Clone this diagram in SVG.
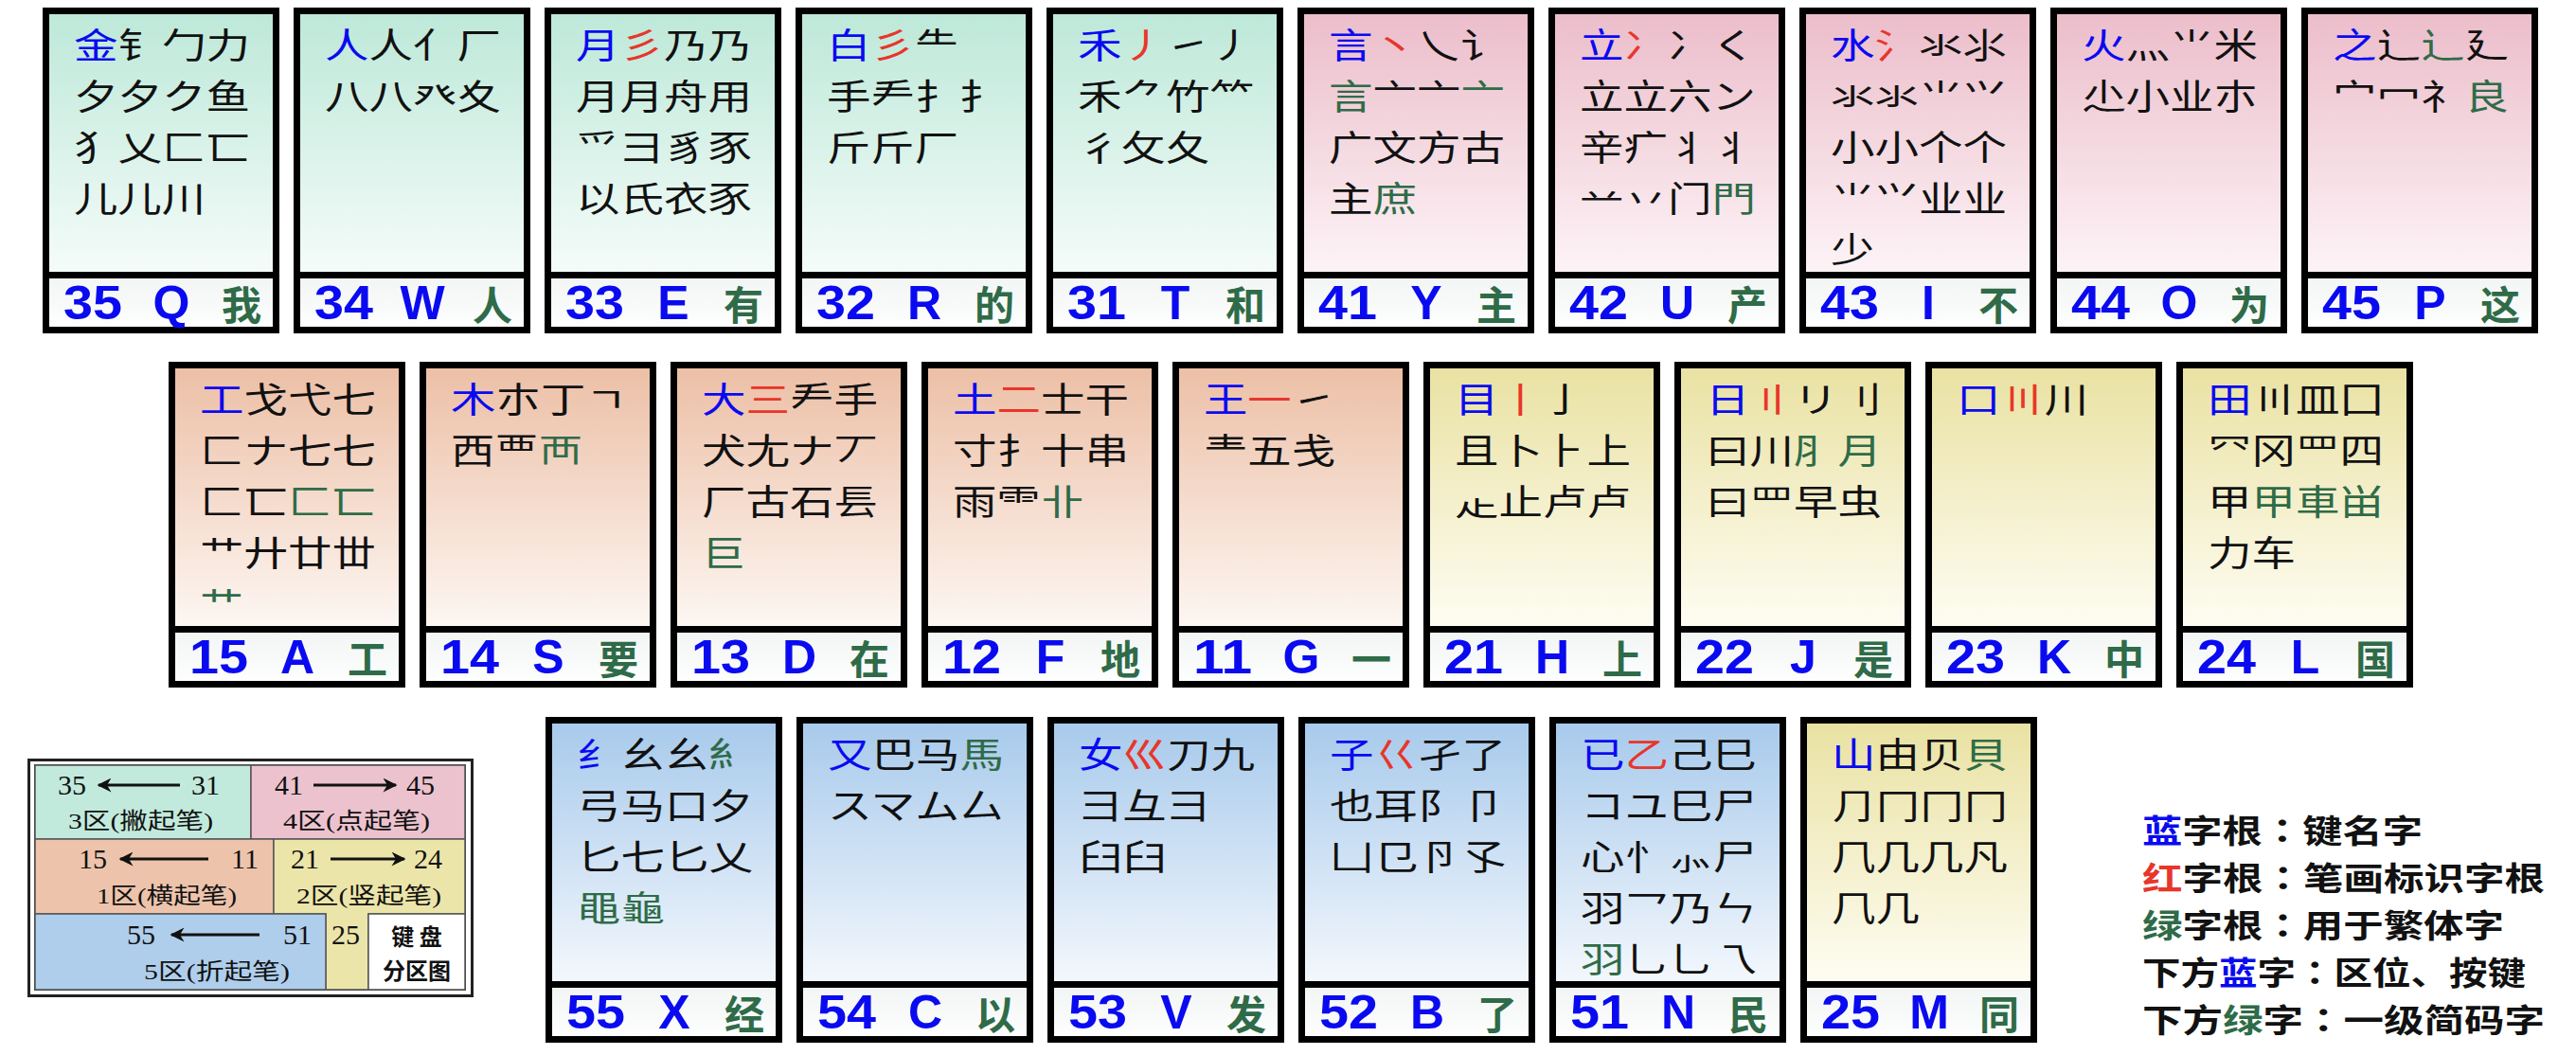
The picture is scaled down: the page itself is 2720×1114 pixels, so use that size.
<svg xmlns="http://www.w3.org/2000/svg" width="2720" height="1114" viewBox="0 0 2720 1114">
<defs>
<linearGradient id="gG" x1="0" y1="0" x2="0" y2="1"><stop offset="0" stop-color="#BCE8D8"/><stop offset="1" stop-color="#F5FCF9"/></linearGradient>
<linearGradient id="gP" x1="0" y1="0" x2="0" y2="1"><stop offset="0" stop-color="#EBBCC9"/><stop offset="1" stop-color="#FDF4F7"/></linearGradient>
<linearGradient id="gS" x1="0" y1="0" x2="0" y2="1"><stop offset="0" stop-color="#ECBEA4"/><stop offset="1" stop-color="#FDF7F3"/></linearGradient>
<linearGradient id="gY" x1="0" y1="0" x2="0" y2="1"><stop offset="0" stop-color="#E9E1A1"/><stop offset="1" stop-color="#FEFDF3"/></linearGradient>
<linearGradient id="gB" x1="0" y1="0" x2="0" y2="1"><stop offset="0" stop-color="#A6C9EB"/><stop offset="1" stop-color="#F4F8FD"/></linearGradient>
<linearGradient id="gL" x1="0" y1="0" x2="0" y2="1"><stop offset="0" stop-color="#F1F5F4"/><stop offset="1" stop-color="#FFFFFF"/></linearGradient>
<marker id="ah" viewBox="0 0 10 10" refX="9" refY="5" markerWidth="6" markerHeight="5" orient="auto-start-reverse"><path d="M0,0 L10,5 L0,10 L3,5 z" fill="#111"/></marker>
</defs>
<style>
.bG{fill:url(#gG)} .bP{fill:url(#gP)} .bS{fill:url(#gS)} .bY{fill:url(#gY)} .bB{fill:url(#gB)}
.lb{fill:url(#gL)}
.fr{fill:none;stroke:#000;stroke-width:7}
.dv{stroke:#000;stroke-width:7}
.t{font-family:"Noto Sans CJK SC","Noto Sans CJK JP",sans-serif;font-size:37px;fill:#111}
.b{fill:#0A0AF0} .r{fill:#E8362A} .g{fill:#2F6B48}
.n{font-family:"Liberation Sans",Arial,sans-serif;font-weight:bold;font-size:50px;fill:#0A0AF0}
.k{font-family:"Liberation Sans",Arial,sans-serif;font-weight:bold;font-size:50px;fill:#0A0AF0;text-anchor:middle}
.z{font-family:"Noto Sans CJK SC",sans-serif;font-weight:bold;font-size:42px;fill:#2F6B48;text-anchor:end}
.cell{stroke:#555;stroke-width:1.5}
.ln{font-family:"Liberation Serif","Noto Sans CJK SC",serif;font-size:30px;fill:#111}
.lz{font-family:"Liberation Serif","Noto Sans CJK SC",serif;font-size:24px;fill:#111}
.lk{font-family:"Noto Sans CJK SC",sans-serif;font-weight:bold;font-size:24px;fill:#111;text-anchor:middle}
.arr{stroke:#111;stroke-width:3;fill:none}
.lg{font-family:"Noto Sans CJK SC",sans-serif;font-weight:bold;font-size:34px;fill:#111}
.cj{font-family:"Noto Sans CJK TC","Noto Sans CJK JP",sans-serif}
</style>

<!-- Row 1 -->
<g id="key-Q" transform="translate(45,8)">
<rect class="bG" width="250" height="283"/><rect class="lb" y="283" width="250" height="61"/>
<rect class="fr" x="3.5" y="3.5" width="243" height="337"/><line class="dv" x1="0" y1="282.5" x2="250" y2="282.5"/>
<text class="t" x="33" y="54" textLength="186" lengthAdjust="spacingAndGlyphs"><tspan class="b">金</tspan>钅勹力</text>
<text class="t" x="33" y="108" textLength="186" lengthAdjust="spacingAndGlyphs">夕夕ク鱼</text>
<text class="t" x="33" y="162" textLength="186" lengthAdjust="spacingAndGlyphs">犭乂匚匸</text>
<text class="t" x="33" y="216" textLength="139" lengthAdjust="spacingAndGlyphs">儿儿川</text>
<text class="n" x="22" y="329" textLength="62" lengthAdjust="spacingAndGlyphs">35</text><text class="k" x="136" y="329">Q</text><text class="z" x="231" y="330">我</text>
</g>
<g id="key-W" transform="translate(310,8)">
<rect class="bG" width="250" height="283"/><rect class="lb" y="283" width="250" height="61"/>
<rect class="fr" x="3.5" y="3.5" width="243" height="337"/><line class="dv" x1="0" y1="282.5" x2="250" y2="282.5"/>
<text class="t" x="33" y="54" textLength="186" lengthAdjust="spacingAndGlyphs"><tspan class="b">人</tspan>人亻厂</text>
<text class="t" x="33" y="108" textLength="186" lengthAdjust="spacingAndGlyphs">八八癶夊</text>
<text class="n" x="22" y="329" textLength="62" lengthAdjust="spacingAndGlyphs">34</text><text class="k" x="136" y="329">W</text><text class="z" x="231" y="330">人</text>
</g>
<g id="key-E" transform="translate(575,8)">
<rect class="bG" width="250" height="283"/><rect class="lb" y="283" width="250" height="61"/>
<rect class="fr" x="3.5" y="3.5" width="243" height="337"/><line class="dv" x1="0" y1="282.5" x2="250" y2="282.5"/>
<text class="t" x="33" y="54" textLength="186" lengthAdjust="spacingAndGlyphs"><tspan class="b">月</tspan><tspan class="r">彡</tspan>乃乃</text>
<text class="t" x="33" y="108" textLength="186" lengthAdjust="spacingAndGlyphs">月月舟用</text>
<text class="t" x="33" y="162" textLength="186" lengthAdjust="spacingAndGlyphs">爫⺕豸豕</text>
<text class="t" x="33" y="216" textLength="186" lengthAdjust="spacingAndGlyphs">以氏衣豕</text>
<text class="n" x="22" y="329" textLength="62" lengthAdjust="spacingAndGlyphs">33</text><text class="k" x="136" y="329">E</text><text class="z" x="231" y="330">有</text>
</g>
<g id="key-R" transform="translate(840,8)">
<rect class="bG" width="250" height="283"/><rect class="lb" y="283" width="250" height="61"/>
<rect class="fr" x="3.5" y="3.5" width="243" height="337"/><line class="dv" x1="0" y1="282.5" x2="250" y2="282.5"/>
<text class="t" x="33" y="54" textLength="139" lengthAdjust="spacingAndGlyphs"><tspan class="b">白</tspan><tspan class="r">彡</tspan>⺧</text>
<text class="t" x="33" y="108" textLength="186" lengthAdjust="spacingAndGlyphs">手龵扌扌</text>
<text class="t" x="33" y="162" textLength="139" lengthAdjust="spacingAndGlyphs">斤斤厂</text>
<text class="n" x="22" y="329" textLength="62" lengthAdjust="spacingAndGlyphs">32</text><text class="k" x="136" y="329">R</text><text class="z" x="231" y="330">的</text>
</g>
<g id="key-T" transform="translate(1105,8)">
<rect class="bG" width="250" height="283"/><rect class="lb" y="283" width="250" height="61"/>
<rect class="fr" x="3.5" y="3.5" width="243" height="337"/><line class="dv" x1="0" y1="282.5" x2="250" y2="282.5"/>
<text class="t" x="33" y="54" textLength="186" lengthAdjust="spacingAndGlyphs"><tspan class="b">禾</tspan><tspan class="r">丿</tspan>㇀丿</text>
<text class="t" x="33" y="108" textLength="186" lengthAdjust="spacingAndGlyphs">禾⺈竹⺮</text>
<text class="t" x="33" y="162" textLength="139" lengthAdjust="spacingAndGlyphs">彳攵夂</text>
<text class="n" x="22" y="329" textLength="62" lengthAdjust="spacingAndGlyphs">31</text><text class="k" x="136" y="329">T</text><text class="z" x="231" y="330">和</text>
</g>
<g id="key-Y" transform="translate(1370,8)">
<rect class="bP" width="250" height="283"/><rect class="lb" y="283" width="250" height="61"/>
<rect class="fr" x="3.5" y="3.5" width="243" height="337"/><line class="dv" x1="0" y1="282.5" x2="250" y2="282.5"/>
<text class="t" x="33" y="54" textLength="186" lengthAdjust="spacingAndGlyphs"><tspan class="b">言</tspan><tspan class="r">丶</tspan>乀讠</text>
<text class="t" x="33" y="108" textLength="186" lengthAdjust="spacingAndGlyphs"><tspan class="g">言</tspan>亠亠<tspan class="g">亠</tspan></text>
<text class="t" x="33" y="162" textLength="186" lengthAdjust="spacingAndGlyphs">广文方古</text>
<text class="t" x="33" y="216" textLength="93" lengthAdjust="spacingAndGlyphs">主<tspan class="g">庶</tspan></text>
<text class="n" x="22" y="329" textLength="62" lengthAdjust="spacingAndGlyphs">41</text><text class="k" x="136" y="329">Y</text><text class="z" x="231" y="330">主</text>
</g>
<g id="key-U" transform="translate(1635,8)">
<rect class="bP" width="250" height="283"/><rect class="lb" y="283" width="250" height="61"/>
<rect class="fr" x="3.5" y="3.5" width="243" height="337"/><line class="dv" x1="0" y1="282.5" x2="250" y2="282.5"/>
<text class="t" x="33" y="54" textLength="186" lengthAdjust="spacingAndGlyphs"><tspan class="b">立</tspan><tspan class="r">冫</tspan>冫く</text>
<text class="t" x="33" y="108" textLength="186" lengthAdjust="spacingAndGlyphs">立立六ン</text>
<text class="t" x="33" y="162" textLength="186" lengthAdjust="spacingAndGlyphs">辛疒丬⺦</text>
<text class="t" x="33" y="216" textLength="186" lengthAdjust="spacingAndGlyphs">䒑丷门<tspan class="g">門</tspan></text>
<text class="n" x="22" y="329" textLength="62" lengthAdjust="spacingAndGlyphs">42</text><text class="k" x="136" y="329">U</text><text class="z" x="231" y="330">产</text>
</g>
<g id="key-I" transform="translate(1900,8)">
<rect class="bP" width="250" height="283"/><rect class="lb" y="283" width="250" height="61"/>
<rect class="fr" x="3.5" y="3.5" width="243" height="337"/><line class="dv" x1="0" y1="282.5" x2="250" y2="282.5"/>
<text class="t" x="33" y="54" textLength="186" lengthAdjust="spacingAndGlyphs"><tspan class="b">水</tspan><tspan class="r">氵</tspan>氺⺢</text>
<text class="t" x="33" y="108" textLength="186" lengthAdjust="spacingAndGlyphs">氺氺⺌⺍</text>
<text class="t" x="33" y="162" textLength="186" lengthAdjust="spacingAndGlyphs">小小个个</text>
<text class="t" x="33" y="216" textLength="186" lengthAdjust="spacingAndGlyphs">⺌⺍业业</text>
<text class="t" x="33" y="270" textLength="46" lengthAdjust="spacingAndGlyphs">少</text>
<text class="n" x="22" y="329" textLength="62" lengthAdjust="spacingAndGlyphs">43</text><text class="k" x="136" y="329">I</text><text class="z" x="231" y="330">不</text>
</g>
<g id="key-O" transform="translate(2165,8)">
<rect class="bP" width="250" height="283"/><rect class="lb" y="283" width="250" height="61"/>
<rect class="fr" x="3.5" y="3.5" width="243" height="337"/><line class="dv" x1="0" y1="282.5" x2="250" y2="282.5"/>
<text class="t" x="33" y="54" textLength="186" lengthAdjust="spacingAndGlyphs"><tspan class="b">火</tspan>灬⺌米</text>
<text class="t" x="33" y="108" textLength="186" lengthAdjust="spacingAndGlyphs">尐小业朩</text>
<text class="n" x="22" y="329" textLength="62" lengthAdjust="spacingAndGlyphs">44</text><text class="k" x="136" y="329">O</text><text class="z" x="231" y="330">为</text>
</g>
<g id="key-P" transform="translate(2430,8)">
<rect class="bP" width="250" height="283"/><rect class="lb" y="283" width="250" height="61"/>
<rect class="fr" x="3.5" y="3.5" width="243" height="337"/><line class="dv" x1="0" y1="282.5" x2="250" y2="282.5"/>
<text class="t" x="33" y="54" textLength="186" lengthAdjust="spacingAndGlyphs"><tspan class="b">之</tspan>辶<tspan class="g">辶</tspan>廴</text>
<text class="t" x="33" y="108" textLength="186" lengthAdjust="spacingAndGlyphs">宀冖礻<tspan class="g">良</tspan></text>
<text class="n" x="22" y="329" textLength="62" lengthAdjust="spacingAndGlyphs">45</text><text class="k" x="136" y="329">P</text><text class="z" x="231" y="330">这</text>
</g>

<!-- Row 2 -->
<g id="key-A" transform="translate(178,382)">
<rect class="bS" width="250" height="283"/><rect class="lb" y="283" width="250" height="61"/>
<rect class="fr" x="3.5" y="3.5" width="243" height="337"/><line class="dv" x1="0" y1="282.5" x2="250" y2="282.5"/>
<text class="t" x="33" y="54" textLength="186" lengthAdjust="spacingAndGlyphs"><tspan class="b">工</tspan>戈弋七</text>
<text class="t" x="33" y="108" textLength="186" lengthAdjust="spacingAndGlyphs">匚ナ七七</text>
<text class="t" x="33" y="162" textLength="186" lengthAdjust="spacingAndGlyphs">匚匸<tspan class="g">匚匸</tspan></text>
<text class="t" x="33" y="216" textLength="186" lengthAdjust="spacingAndGlyphs">艹廾廿丗</text>
<text class="t g" x="33" y="270" textLength="46" lengthAdjust="spacingAndGlyphs">艹</text>
<text class="n" x="22" y="329" textLength="62" lengthAdjust="spacingAndGlyphs">15</text><text class="k" x="136" y="329">A</text><text class="z" x="231" y="330">工</text>
</g>
<g id="key-S" transform="translate(443,382)">
<rect class="bS" width="250" height="283"/><rect class="lb" y="283" width="250" height="61"/>
<rect class="fr" x="3.5" y="3.5" width="243" height="337"/><line class="dv" x1="0" y1="282.5" x2="250" y2="282.5"/>
<text class="t" x="33" y="54" textLength="186" lengthAdjust="spacingAndGlyphs"><tspan class="b">木</tspan>朩丁ㄱ</text>
<text class="t" x="33" y="108" textLength="139" lengthAdjust="spacingAndGlyphs">西覀<tspan class="g">襾</tspan></text>
<text class="n" x="22" y="329" textLength="62" lengthAdjust="spacingAndGlyphs">14</text><text class="k" x="136" y="329">S</text><text class="z" x="231" y="330">要</text>
</g>
<g id="key-D" transform="translate(708,382)">
<rect class="bS" width="250" height="283"/><rect class="lb" y="283" width="250" height="61"/>
<rect class="fr" x="3.5" y="3.5" width="243" height="337"/><line class="dv" x1="0" y1="282.5" x2="250" y2="282.5"/>
<text class="t" x="33" y="54" textLength="186" lengthAdjust="spacingAndGlyphs"><tspan class="b">大</tspan><tspan class="r">三</tspan>龵手</text>
<text class="t" x="33" y="108" textLength="186" lengthAdjust="spacingAndGlyphs">犬尢ナ丆</text>
<text class="t" x="33" y="162" textLength="186" lengthAdjust="spacingAndGlyphs">厂古石镸</text>
<text class="t g" x="33" y="216" textLength="46" lengthAdjust="spacingAndGlyphs">巨</text>
<text class="n" x="22" y="329" textLength="62" lengthAdjust="spacingAndGlyphs">13</text><text class="k" x="136" y="329">D</text><text class="z" x="231" y="330">在</text>
</g>
<g id="key-F" transform="translate(973,382)">
<rect class="bS" width="250" height="283"/><rect class="lb" y="283" width="250" height="61"/>
<rect class="fr" x="3.5" y="3.5" width="243" height="337"/><line class="dv" x1="0" y1="282.5" x2="250" y2="282.5"/>
<text class="t" x="33" y="54" textLength="186" lengthAdjust="spacingAndGlyphs"><tspan class="b">土</tspan><tspan class="r">二</tspan>士干</text>
<text class="t" x="33" y="108" textLength="186" lengthAdjust="spacingAndGlyphs">寸扌十串</text>
<text class="t" x="33" y="162" textLength="139" lengthAdjust="spacingAndGlyphs">雨⻗<tspan class="g">卝</tspan></text>
<text class="n" x="22" y="329" textLength="62" lengthAdjust="spacingAndGlyphs">12</text><text class="k" x="136" y="329">F</text><text class="z" x="231" y="330">地</text>
</g>
<g id="key-G" transform="translate(1238,382)">
<rect class="bS" width="250" height="283"/><rect class="lb" y="283" width="250" height="61"/>
<rect class="fr" x="3.5" y="3.5" width="243" height="337"/><line class="dv" x1="0" y1="282.5" x2="250" y2="282.5"/>
<text class="t" x="33" y="54" textLength="139" lengthAdjust="spacingAndGlyphs"><tspan class="b">王</tspan><tspan class="r">一</tspan>㇀</text>
<text class="t" x="33" y="108" textLength="139" lengthAdjust="spacingAndGlyphs">龶五戋</text>
<text class="n" x="22" y="329" textLength="62" lengthAdjust="spacingAndGlyphs">11</text><text class="k" x="136" y="329">G</text><text class="z" x="231" y="330">一</text>
</g>
<g id="key-H" transform="translate(1503,382)">
<rect class="bY" width="250" height="283"/><rect class="lb" y="283" width="250" height="61"/>
<rect class="fr" x="3.5" y="3.5" width="243" height="337"/><line class="dv" x1="0" y1="282.5" x2="250" y2="282.5"/>
<text class="t" x="33" y="54" textLength="139" lengthAdjust="spacingAndGlyphs"><tspan class="b">目</tspan><tspan class="r">丨</tspan>亅</text>
<text class="t" x="33" y="108" textLength="186" lengthAdjust="spacingAndGlyphs">且卜⺊上</text>
<text class="t" x="33" y="162" textLength="186" lengthAdjust="spacingAndGlyphs">龰止卢卢</text>
<text class="n" x="22" y="329" textLength="62" lengthAdjust="spacingAndGlyphs">21</text><text class="k" x="136" y="329">H</text><text class="z" x="231" y="330">上</text>
</g>
<g id="key-J" transform="translate(1768,382)">
<rect class="bY" width="250" height="283"/><rect class="lb" y="283" width="250" height="61"/>
<rect class="fr" x="3.5" y="3.5" width="243" height="337"/><line class="dv" x1="0" y1="282.5" x2="250" y2="282.5"/>
<text class="t" x="33" y="54" textLength="186" lengthAdjust="spacingAndGlyphs"><tspan class="b">日</tspan><tspan class="r">〢</tspan>リ刂</text>
<text class="t" x="33" y="108" textLength="186" lengthAdjust="spacingAndGlyphs">曰川<tspan class="g">⺼月</tspan></text>
<text class="t" x="33" y="162" textLength="186" lengthAdjust="spacingAndGlyphs">曰罒早虫</text>
<text class="n" x="22" y="329" textLength="62" lengthAdjust="spacingAndGlyphs">22</text><text class="k" x="136" y="329">J</text><text class="z" x="231" y="330">是</text>
</g>
<g id="key-K" transform="translate(2033,382)">
<rect class="bY" width="250" height="283"/><rect class="lb" y="283" width="250" height="61"/>
<rect class="fr" x="3.5" y="3.5" width="243" height="337"/><line class="dv" x1="0" y1="282.5" x2="250" y2="282.5"/>
<text class="t" x="33" y="54" textLength="139" lengthAdjust="spacingAndGlyphs"><tspan class="b">口</tspan><tspan class="r">〣</tspan>川</text>
<text class="n" x="22" y="329" textLength="62" lengthAdjust="spacingAndGlyphs">23</text><text class="k" x="136" y="329">K</text><text class="z" x="231" y="330">中</text>
</g>
<g id="key-L" transform="translate(2298,382)">
<rect class="bY" width="250" height="283"/><rect class="lb" y="283" width="250" height="61"/>
<rect class="fr" x="3.5" y="3.5" width="243" height="337"/><line class="dv" x1="0" y1="282.5" x2="250" y2="282.5"/>
<text class="t" x="33" y="54" textLength="186" lengthAdjust="spacingAndGlyphs"><tspan class="b">田</tspan>〣皿囗</text>
<text class="t" x="33" y="108" textLength="186" lengthAdjust="spacingAndGlyphs">㓁冈罒四</text>
<text class="t" x="33" y="162" textLength="186" lengthAdjust="spacingAndGlyphs">甲<tspan class="g">甲車畄</tspan></text>
<text class="t" x="33" y="216" textLength="93" lengthAdjust="spacingAndGlyphs">力车</text>
<text class="n" x="22" y="329" textLength="62" lengthAdjust="spacingAndGlyphs">24</text><text class="k" x="136" y="329">L</text><text class="z" x="231" y="330">国</text>
</g>

<!-- Row 3 -->
<g id="key-X" transform="translate(576,757)">
<rect class="bB" width="250" height="283"/><rect class="lb" y="283" width="250" height="61"/>
<rect class="fr" x="3.5" y="3.5" width="243" height="337"/><line class="dv" x1="0" y1="282.5" x2="250" y2="282.5"/>
<text class="t" x="33" y="54" textLength="186" lengthAdjust="spacingAndGlyphs"><tspan class="b">纟</tspan>幺幺<tspan class="g">糹</tspan></text>
<text class="t" x="33" y="108" textLength="186" lengthAdjust="spacingAndGlyphs">弓马口夕</text>
<text class="t" x="33" y="162" textLength="186" lengthAdjust="spacingAndGlyphs">匕七匕乂</text>
<text class="t g" x="33" y="216" textLength="93" lengthAdjust="spacingAndGlyphs">黽龜</text>
<text class="n" x="22" y="329" textLength="62" lengthAdjust="spacingAndGlyphs">55</text><text class="k" x="136" y="329">X</text><text class="z" x="231" y="330">经</text>
</g>
<g id="key-C" transform="translate(841,757)">
<rect class="bB" width="250" height="283"/><rect class="lb" y="283" width="250" height="61"/>
<rect class="fr" x="3.5" y="3.5" width="243" height="337"/><line class="dv" x1="0" y1="282.5" x2="250" y2="282.5"/>
<text class="t" x="33" y="54" textLength="186" lengthAdjust="spacingAndGlyphs"><tspan class="b">又</tspan>巴马<tspan class="g">馬</tspan></text>
<text class="t" x="33" y="108" textLength="186" lengthAdjust="spacingAndGlyphs">スマム厶</text>
<text class="n" x="22" y="329" textLength="62" lengthAdjust="spacingAndGlyphs">54</text><text class="k" x="136" y="329">C</text><text class="z" x="231" y="330">以</text>
</g>
<g id="key-V" transform="translate(1106,757)">
<rect class="bB" width="250" height="283"/><rect class="lb" y="283" width="250" height="61"/>
<rect class="fr" x="3.5" y="3.5" width="243" height="337"/><line class="dv" x1="0" y1="282.5" x2="250" y2="282.5"/>
<text class="t" x="33" y="54" textLength="186" lengthAdjust="spacingAndGlyphs"><tspan class="b">女</tspan><tspan class="r">巛</tspan>刀九</text>
<text class="t" x="33" y="108" textLength="139" lengthAdjust="spacingAndGlyphs">⺕⺔彐</text>
<text class="t" x="33" y="162" textLength="93" lengthAdjust="spacingAndGlyphs">臼臼</text>
<text class="n" x="22" y="329" textLength="62" lengthAdjust="spacingAndGlyphs">53</text><text class="k" x="136" y="329">V</text><text class="z" x="231" y="330">发</text>
</g>
<g id="key-B" transform="translate(1371,757)">
<rect class="bB" width="250" height="283"/><rect class="lb" y="283" width="250" height="61"/>
<rect class="fr" x="3.5" y="3.5" width="243" height="337"/><line class="dv" x1="0" y1="282.5" x2="250" y2="282.5"/>
<text class="t" x="33" y="54" textLength="186" lengthAdjust="spacingAndGlyphs"><tspan class="b">子</tspan><tspan class="r">巜</tspan>孑了</text>
<text class="t" x="33" y="108" textLength="186" lengthAdjust="spacingAndGlyphs">也耳阝卩</text>
<text class="t" x="33" y="162" textLength="186" lengthAdjust="spacingAndGlyphs">凵㔾卪孓</text>
<text class="n" x="22" y="329" textLength="62" lengthAdjust="spacingAndGlyphs">52</text><text class="k" x="136" y="329">B</text><text class="z" x="231" y="330">了</text>
</g>
<g id="key-N" transform="translate(1636,757)">
<rect class="bB" width="250" height="283"/><rect class="lb" y="283" width="250" height="61"/>
<rect class="fr" x="3.5" y="3.5" width="243" height="337"/><line class="dv" x1="0" y1="282.5" x2="250" y2="282.5"/>
<text class="t" x="33" y="54" textLength="186" lengthAdjust="spacingAndGlyphs"><tspan class="b">已</tspan><tspan class="r">乙</tspan>己巳</text>
<text class="t" x="33" y="108" textLength="186" lengthAdjust="spacingAndGlyphs">コユ⺒尸</text>
<text class="t" x="33" y="162" textLength="186" lengthAdjust="spacingAndGlyphs">心忄⺗尸</text>
<text class="t" x="33" y="216" textLength="186" lengthAdjust="spacingAndGlyphs">羽乛乃ㄣ</text>
<text class="t" x="33" y="270" textLength="186" lengthAdjust="spacingAndGlyphs"><tspan class="g">羽</tspan>乚乚乁</text>
<text class="n" x="22" y="329" textLength="62" lengthAdjust="spacingAndGlyphs">51</text><text class="k" x="136" y="329">N</text><text class="z" x="231" y="330">民</text>
</g>
<g id="key-M" transform="translate(1901,757)">
<rect class="bY" width="250" height="283"/><rect class="lb" y="283" width="250" height="61"/>
<rect class="fr" x="3.5" y="3.5" width="243" height="337"/><line class="dv" x1="0" y1="282.5" x2="250" y2="282.5"/>
<text class="t" x="33" y="54" textLength="186" lengthAdjust="spacingAndGlyphs"><tspan class="b">山</tspan>由贝<tspan class="g">貝</tspan></text>
<text class="t" x="33" y="108" textLength="186" lengthAdjust="spacingAndGlyphs">⺆冂冂冂</text>
<text class="t" x="33" y="162" textLength="186" lengthAdjust="spacingAndGlyphs">⺇几几凡</text>
<text class="t" x="33" y="216" textLength="93" lengthAdjust="spacingAndGlyphs">⺇几</text>
<text class="n" x="22" y="329" textLength="62" lengthAdjust="spacingAndGlyphs">25</text><text class="k" x="136" y="329">M</text><text class="z" x="231" y="330">同</text>
</g>

<!-- Zone legend -->
<g id="zone-legend">
<rect x="30.5" y="802.5" width="468" height="249" fill="#fff" stroke="#222" stroke-width="3"/>
<rect x="37" y="808" width="454" height="237" fill="#fff" stroke="#333" stroke-width="2"/>
<rect class="cell" x="37" y="808" width="228" height="78" fill="#C2EADC"/>
<rect class="cell" x="265" y="808" width="226" height="78" fill="#ECC2CE"/>
<rect class="cell" x="37" y="886" width="252" height="79" fill="#EDC4AB"/>
<path class="cell" d="M289,886 H491 V965 H389 V1045 H344 V965 H289 Z" fill="#ECE5A9"/>
<rect class="cell" x="37" y="965" width="307" height="80" fill="#AFCEEC"/>
<rect class="cell" x="389" y="965" width="102" height="80" fill="#FFFFFF"/>
<text class="ln" x="61" y="839">35</text><text class="ln" x="202" y="839">31</text>
<text class="lz" x="72" y="875" textLength="153" lengthAdjust="spacingAndGlyphs">3区(撇起笔)</text>
<text class="ln" x="290" y="839">41</text><text class="ln" x="429" y="839">45</text>
<text class="lz" x="299" y="875" textLength="155" lengthAdjust="spacingAndGlyphs">4区(点起笔)</text>
<text class="ln" x="83" y="917">15</text><text class="ln" x="244" y="917">11</text>
<text class="lz" x="102" y="954" textLength="148" lengthAdjust="spacingAndGlyphs">1区(横起笔)</text>
<text class="ln" x="307" y="917">21</text><text class="ln" x="437" y="917">24</text>
<text class="lz" x="313" y="954" textLength="153" lengthAdjust="spacingAndGlyphs">2区(竖起笔)</text>
<text class="ln" x="134" y="997">55</text><text class="ln" x="299" y="997">51</text>
<text class="lz" x="152" y="1034" textLength="154" lengthAdjust="spacingAndGlyphs">5区(折起笔)</text>
<text class="ln" x="350" y="997">25</text>
<text class="lk" x="440" y="998">键 盘</text>
<text class="lk" x="440" y="1034">分区图</text>
</g>

<g id="connectors">
<line class="arr" x1="190" y1="829" x2="104" y2="829" marker-end="url(#ah)"/>
<line class="arr" x1="331" y1="829" x2="418" y2="829" marker-end="url(#ah)"/>
<line class="arr" x1="220" y1="907" x2="127" y2="907" marker-end="url(#ah)"/>
<line class="arr" x1="349" y1="907" x2="427" y2="907" marker-end="url(#ah)"/>
<line class="arr" x1="274" y1="987" x2="181" y2="987" marker-end="url(#ah)"/>
</g>

<!-- Color legend -->
<g id="color-legend">
<text class="lg" x="2262" y="890" textLength="296" lengthAdjust="spacingAndGlyphs"><tspan class="b">蓝</tspan>字根<tspan class="cj">：</tspan>键名字</text>
<text class="lg" x="2262" y="940" textLength="425" lengthAdjust="spacingAndGlyphs"><tspan class="r">红</tspan>字根<tspan class="cj">：</tspan>笔画标识字根</text>
<text class="lg" x="2262" y="990" textLength="382" lengthAdjust="spacingAndGlyphs"><tspan class="g">绿</tspan>字根<tspan class="cj">：</tspan>用于繁体字</text>
<text class="lg" x="2262" y="1040" textLength="405" lengthAdjust="spacingAndGlyphs">下方<tspan class="b">蓝</tspan>字<tspan class="cj">：</tspan>区位、按键</text>
<text class="lg" x="2262" y="1090" textLength="425" lengthAdjust="spacingAndGlyphs">下方<tspan class="g">绿</tspan>字<tspan class="cj">：</tspan>一级简码字</text>
</g>
</svg>
